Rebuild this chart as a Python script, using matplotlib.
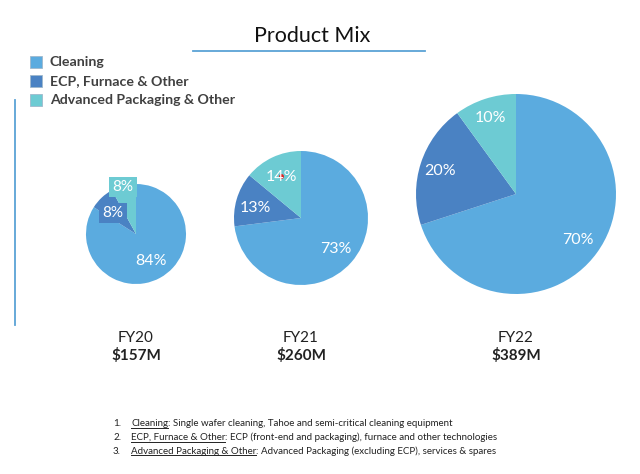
import matplotlib.pyplot as plt
from matplotlib.patches import Rectangle

plt.rcParams['font.family'] = ['Lato', 'DejaVu Sans']

segments = ['Cleaning', 'ECP, Furnace & Other', 'Advanced Packaging & Other']
colors = ['#5BABDF', '#4A82C3', '#6DCBD3']
years = ['FY20', 'FY21', 'FY22']
revenue = ['$157M', '$260M', '$389M']
mix = {
    'FY20': [84, 8, 8],
    'FY21': [73, 13, 14],
    'FY22': [70, 20, 10],
}
footnotes = [
    ('Cleaning', ': Single wafer cleaning, Tahoe and semi-critical cleaning equipment'),
    ('ECP, Furnace & Other', ': ECP (front-end and packaging), furnace and other technologies'),
    ('Advanced Packaging & Other', ': Advanced Packaging (excluding ECP), services & spares'),
]

W, H = 640, 474
fig = plt.figure(figsize=(6.4, 4.74), dpi=100)
ax = fig.add_axes([0, 0, 1, 1])

def Y(py):
    return H - py

# pie layout in pixel units (center x, center y, radius)
layout = {'FY20': (136, 234, 50), 'FY21': (301, 218, 67), 'FY22': (516, 194, 100)}
# label positions (pixel) for each slice
label_pos = {
    'FY20': [(151, 261), (113, 213), (123, 187)],
    'FY21': [(336, 249), (255, 208), (281, 177)],
    'FY22': [(578, 240), (440, 171), (490, 118)],
}

for yr, rev in zip(years, revenue):
    cx, cy, r = layout[yr]
    ax.pie(mix[yr], colors=colors, startangle=90, counterclock=False,
           center=(cx, Y(cy)), radius=r, frame=True,
           wedgeprops=dict(linewidth=0))
    for i, v in enumerate(mix[yr]):
        lx, ly = label_pos[yr][i]
        if yr == 'FY20' and i > 0:
            ax.text(lx, Y(ly), f'{v}%', color='white', fontsize=11,
                    ha='center', va='center',
                    bbox=dict(boxstyle='square,pad=0.2', fc=colors[i], ec='none'))
        else:
            ax.text(lx, Y(ly), f'{v}%', color='white', fontsize=11.5,
                    ha='center', va='center')
    ax.text(cx, Y(338), yr, fontsize=11, color='#222222', ha='center', va='center')
    ax.text(cx, Y(356), rev, fontsize=11, color='#222222', ha='center',
            va='center', fontweight='bold')

ax.set_xlim(0, W)
ax.set_ylim(0, H)
ax.set_aspect('equal')
ax.axis('off')

# red dot on FY21
ax.plot(281, Y(176), 'o', color='#E02020', ms=3.5, mec='none')

# title
ax.text(312, Y(36), 'Product Mix', fontsize=15.5, color='#111111', ha='center', va='center')
ax.plot([193, 425], [Y(51), Y(51)], color='#5BA3D6', lw=1.3)

# left vertical line
ax.plot([15, 15], [Y(100), Y(325)], color='#5BA3D6', lw=1.3)

# legend
for i, (seg, c) in enumerate(zip(segments, colors)):
    yy = 62 + i * 19
    ax.add_patch(Rectangle((30, Y(yy) - 6), 12, 12, fc=c, ec='#9FB8CC', lw=0.6))
    ax.text(50, Y(yy), seg, fontsize=10.2, color='#404040', ha='left', va='center',
            fontweight='bold')

# footnotes with underlined terms
fig.canvas.draw()
renderer = fig.canvas.get_renderer()
for i, (term, desc) in enumerate(footnotes):
    yy = Y(424 + i * 13.5)
    ax.text(113, yy, f'{i + 1}.', fontsize=7, color='#222222', ha='left', va='center')
    t = ax.text(131, yy, term, fontsize=7, color='#222222', ha='left', va='center')
    bb = t.get_window_extent(renderer=renderer)
    x0, x1 = bb.x0, bb.x1
    ax.plot([x0, x1], [bb.y0 + 0.5, bb.y0 + 0.5], color='#222222', lw=0.7)
    ax.text(x1, yy, desc, fontsize=7, color='#222222', ha='left', va='center')

fig.savefig('out.png', dpi=100)
